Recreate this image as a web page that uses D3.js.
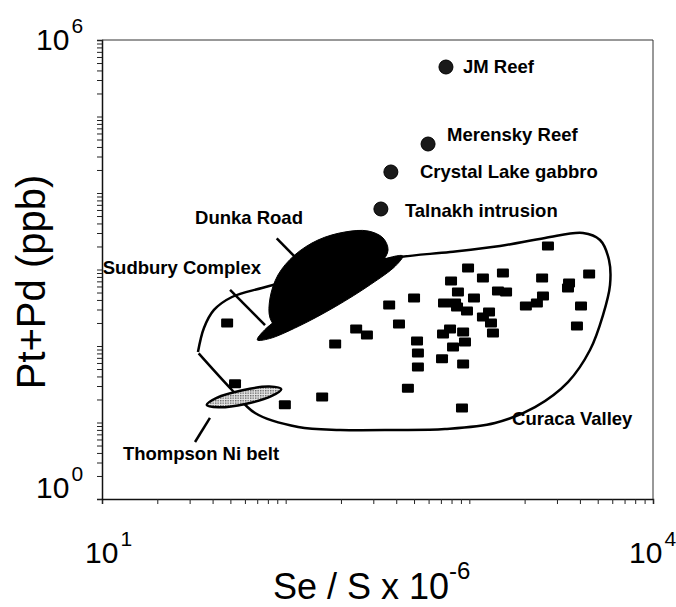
<!DOCTYPE html>
<html>
<head>
<meta charset="utf-8">
<script src="https://cdn.jsdelivr.net/npm/d3@7"></script>
<style>
  body { margin: 0; background: #fff; }
  svg { display: block; }
  text { font-family: "Liberation Sans", Arial, sans-serif; fill: #000; }
  .lab { font-size: 18.5px; font-weight: bold; }
</style>
</head>
<body>
<svg id="chart" width="676" height="607"></svg>
<script>
// Curaca Valley samples, Se/S x 10^-6 and Pt+Pd (ppb)
var curacaSeS = [2680, 984, 1524, 1186, 795, 2490, 4490, 3490, 3445, 867,
                 1432, 1585, 500, 1060, 2518, 728, 836, 857, 2032, 2333,
                 4055, 366, 971, 1280, 1186, 414, 1312, 3855, 242, 277,
                 1345, 785, 719, 925, 186, 519, 947, 815, 525, 710,
                 925, 525, 463, 912, 48, 53, 99, 158];
var curacaPtPd = [2030, 1047, 900, 774, 708, 774, 873, 666, 573, 508,
                  524, 508, 424, 424, 450, 365, 365, 324, 333, 365,
                  333, 343, 287, 278, 239, 194, 200, 183, 167, 139,
                  148, 167, 144, 152, 106, 116, 113, 97, 81, 68,
                  58, 53, 28, 15.5, 200, 32, 17, 21.5];

// other deposits (circles)
var deposits = ["JM Reef", "Merensky Reef", "Crystal Lake gabbro", "Talnakh intrusion"];
var depositSeS = [746, 596, 374, 330];
var depositPtPd = [443600, 43700, 18830, 6180];

// outlined fields, [Se/S, Pt+Pd]
var curacaField = [[33.3, 83.5], [35.9, 172], [40.7, 296], [51.0, 437], [74.3, 573],
                   [120, 774], [224, 1111], [419, 1457], [785, 1694], [1469, 2029],
                   [2583, 2581], [4157, 3000], [5145, 2430], [5760, 1331], [5833, 627],
                   [5343, 254], [4539, 88.6], [3445, 33.8], [2278, 15.9], [1379, 9.85],
                   [737, 8.22], [394, 7.98], [198, 7.98], [117, 8.73], [68.1, 13.3],
                   [51.0, 26.6], [33.6, 80]];
var dunkaField = [[210, 3092], [281, 3187], [339, 2581], [361, 1798], [334, 1253],
                  [270, 774], [210, 464], [154, 278], [112, 188], [90.8, 172],
                  [82.2, 232], [82.2, 424], [90.8, 848], [112, 1547], [150, 2430]];
var sudburyField = [[434, 1502], [396, 1111], [290, 637], [186, 326], [117, 180],
                    [81.7, 125], [70.1, 120], [76.7, 162], [104, 282], [164, 551],
                    [260, 1000], [372, 1444]];
var thompsonField = [[94.6, 27.3], [83.5, 22.1], [60.4, 17.5], [43.2, 15.8],
                     [37.2, 17.0], [42.1, 21.0], [58.2, 26.4], [81.4, 29.5]];

// leader lines
var leaders = [
  [[89.4, 2557], [112, 1470]],
  [[49.8, 540], [77.2, 188]],
  [[38.7, 11.5], [32.1, 5.56]]
];
var fieldNames = ["Dunka Road", "Sudbury Complex", "Thompson Ni belt", "Curaca Valley"];
var fieldLabelAt = [[32.1, 3934], [10.1, 873], [13.0, 3.24], [1708, 9.28]];

var xTickLabels = [10, 10000];
var yTickLabels = [1, 1000000];

var mLeft = 102, mRight = 653, mTop = 40, mBottom = 499;

var svg = d3.select("#chart");

var x = d3.scaleLog().domain([10, 10000]).range([mLeft, mRight]);
var y = d3.scaleLog().domain([1, 1000000]).range([mBottom, mTop]);

// stipple for Thompson
var defs = svg.append("defs");
var pat = defs.append("pattern").attr("id", "stip")
    .attr("width", 2.5).attr("height", 2.5).attr("patternUnits", "userSpaceOnUse");
pat.append("rect").attr("width", 2.5).attr("height", 2.5).attr("fill", "#e6e6e6");
pat.append("rect").attr("width", 1.4).attr("height", 1.4).attr("fill", "#666");

// axes
svg.append("g")
    .attr("transform", "translate(0," + mBottom + ")")
    .call(d3.axisBottom(x).tickValues(x.ticks()).tickSize(5).tickFormat(""))
    .call(function(g) {
        g.select(".domain").attr("stroke", "#111").attr("stroke-width", 1.5);
        g.selectAll(".tick line").attr("stroke", "#222");
    });
svg.append("g")
    .attr("transform", "translate(" + mLeft + ",0)")
    .call(d3.axisLeft(y).tickValues(y.ticks()).tickSize(5).tickFormat(""))
    .call(function(g) {
        g.select(".domain").attr("stroke", "#111").attr("stroke-width", 1.5);
        g.selectAll(".tick line").attr("stroke", "#222");
    });
svg.append("line").attr("x1", mLeft).attr("x2", mRight).attr("y1", mTop).attr("y2", mTop)
    .attr("stroke", "#333").attr("stroke-width", 1);
svg.append("line").attr("x1", mRight).attr("x2", mRight).attr("y1", mTop).attr("y2", mBottom)
    .attr("stroke", "#333").attr("stroke-width", 1);

// tick labels 10^n
var xl = svg.selectAll(".xlab").data(xTickLabels).enter().append("text")
    .attr("class", "xlab")
    .attr("x", function(d, i) { return x(d) + (i === 0 ? -17 : -24); })
    .attr("y", 563)
    .style("font-size", "30px");
xl.append("tspan").text("10");
xl.append("tspan").attr("dy", -17).attr("dx", 2).style("font-size", "21px")
    .text(function(d) { return Math.round(Math.log10(d)); });

var yl = svg.selectAll(".ylab").data(yTickLabels).enter().append("text")
    .attr("class", "ylab")
    .attr("x", 36)
    .attr("y", function(d, i) { return y(d) + (i === 0 ? -1 : 10); })
    .style("font-size", "30px");
yl.append("tspan").text("10");
yl.append("tspan").attr("dy", -17).attr("dx", 2).style("font-size", "21px")
    .text(function(d) { return Math.round(Math.log10(d)); });

// axis titles
var xt = svg.append("text").attr("x", 273).attr("y", 599).style("font-size", "36px");
xt.append("tspan").text("Se / S x 10");
xt.append("tspan").attr("dy", -20).style("font-size", "24px").text("-6");

svg.append("text")
    .attr("transform", "translate(45,282) rotate(-90)")
    .attr("text-anchor", "middle")
    .style("font-size", "40px")
    .text("Pt+Pd (ppb)");

var line = d3.line()
    .x(function(d) { return x(d[0]); })
    .y(function(d) { return y(d[1]); })
    .curve(d3.curveCatmullRom.alpha(0.5));

var fieldShape = d3.line()
    .x(function(d) { return x(d[0]); })
    .y(function(d) { return y(d[1]); })
    .curve(d3.curveCatmullRomClosed.alpha(0.5));

// Curaca Valley outline (left corner kept sharp)
svg.append("path")
    .datum(curacaField)
    .attr("d", line)
    .attr("fill", "none").attr("stroke", "#000").attr("stroke-width", 2.5);

// Curaca samples
svg.selectAll(".sq").data(curacaSeS).enter().append("rect")
    .attr("class", "sq")
    .attr("x", function(d) { return x(d) - 6; })
    .attr("y", function(d, i) { return y(curacaPtPd[i]) - 4.5; })
    .attr("width", 12).attr("height", 9).attr("rx", 1)
    .attr("fill", "#000");

// Dunka Road and Sudbury fields
svg.append("path").datum(sudburyField).attr("d", fieldShape)
    .attr("fill", "#000").attr("stroke", "#000").attr("stroke-width", 1);
svg.append("path").datum(dunkaField).attr("d", fieldShape)
    .attr("fill", "#000").attr("stroke", "#000").attr("stroke-width", 1);

// Thompson Ni belt
svg.append("path").datum(thompsonField).attr("d", fieldShape)
    .attr("fill", "url(#stip)").attr("stroke", "#000").attr("stroke-width", 2.5);

// leader lines
var straight = d3.line().x(function(d) { return x(d[0]); }).y(function(d) { return y(d[1]); });
svg.selectAll(".lead").data(leaders).enter().append("path")
    .attr("class", "lead")
    .attr("d", straight)
    .attr("stroke", "#000").attr("stroke-width", 2.5);

// deposit circles
svg.selectAll(".dep").data(depositSeS).enter().append("circle")
    .attr("class", "dep")
    .attr("cx", function(d) { return x(d); })
    .attr("cy", function(d, i) { return y(depositPtPd[i]); })
    .attr("r", 7)
    .attr("fill", "#1a1a1a").attr("stroke", "#000").attr("stroke-width", 1);

var depLabelOffset = [[17, 6], [19, -3], [29, 6], [24, 8]];
svg.selectAll(".deplab").data(deposits).enter().append("text")
    .attr("class", "lab")
    .attr("x", function(d, i) { return x(depositSeS[i]) + depLabelOffset[i][0]; })
    .attr("y", function(d, i) { return y(depositPtPd[i]) + depLabelOffset[i][1]; })
    .text(function(d) { return d; });

svg.selectAll(".flab").data(fieldNames).enter().append("text")
    .attr("class", "lab")
    .attr("x", function(d, i) { return x(fieldLabelAt[i][0]); })
    .attr("y", function(d, i) { return y(fieldLabelAt[i][1]); })
    .text(function(d) { return d; });
</script>
</body>
</html>
